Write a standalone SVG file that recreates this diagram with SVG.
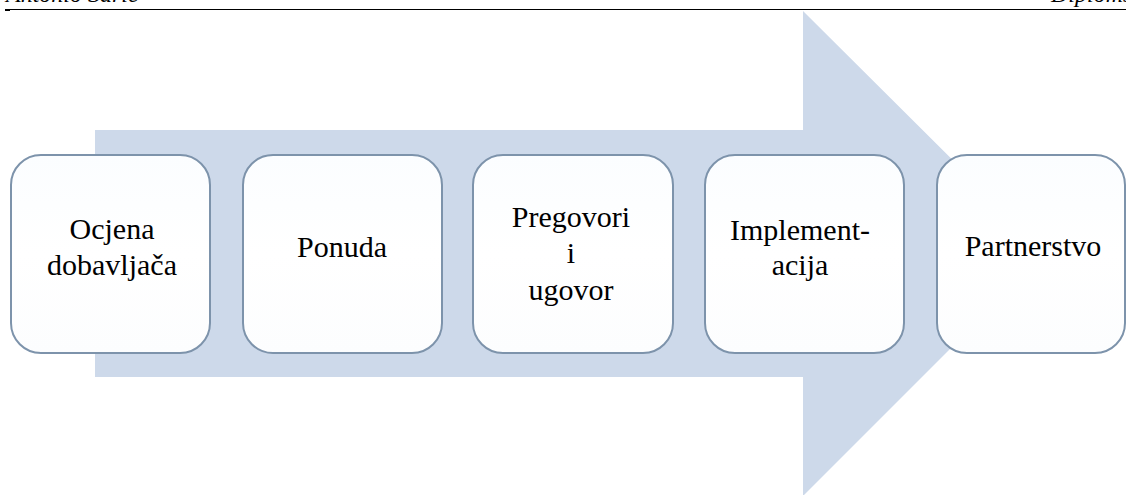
<svg xmlns="http://www.w3.org/2000/svg" width="1126" height="495" viewBox="0 0 1126 495">
  <style>
    .hdr { font-family: "Liberation Serif", "DejaVu Serif", serif; font-style: italic; font-size: 24px; fill: #000; }
    .box { fill: url(#boxfill); stroke: #7d93ab; stroke-width: 2; }
    .lbl { font-family: "Liberation Serif", "DejaVu Serif", serif; font-size: 30px; fill: #000; text-anchor: middle; }
  </style>
  <defs>
    <linearGradient id="boxfill" x1="0" y1="0" x2="0" y2="1">
      <stop offset="0" stop-color="#fbfdff"/>
      <stop offset="0.5" stop-color="#ffffff"/>
      <stop offset="1" stop-color="#fcfdfe"/>
    </linearGradient>
  </defs>
  <rect x="0" y="0" width="1126" height="495" fill="#ffffff"/>

  <!-- page header (cropped at top edge, as in the reference) -->
  <text class="hdr" x="6" y="2">Antonio Šarić</text>
  <text class="hdr" x="1051" y="2">Diplomski rad</text>
  <line x1="5" y1="9.5" x2="1126" y2="9.5" stroke="#000" stroke-width="1.2"/>
  <rect x="5" y="9" width="5" height="2" fill="#000"/>

  <!-- background arrow -->
  <g id="connectors">
    <polygon points="95,130 803,130 803,11 1046,253 803,496 803,377 95,377" fill="#cdd9ea"/>
  </g>

  <g id="node-ocjena">
    <rect class="box" x="11" y="155" width="199" height="198" rx="30" ry="30"/>
    <text class="lbl" x="112" y="239">Ocjena</text>
    <text class="lbl" x="112" y="275">dobavljača</text>
  </g>

  <g id="node-ponuda">
    <rect class="box" x="243" y="155" width="199" height="198" rx="30" ry="30"/>
    <text class="lbl" x="342" y="257">Ponuda</text>
  </g>

  <g id="node-pregovori">
    <rect class="box" x="473" y="155" width="200" height="198" rx="30" ry="30"/>
    <text class="lbl" x="571" y="227">Pregovori</text>
    <text class="lbl" x="571" y="263">i</text>
    <text class="lbl" x="571" y="300">ugovor</text>
  </g>

  <g id="node-implementacija">
    <rect class="box" x="705" y="155" width="199" height="198" rx="30" ry="30"/>
    <text class="lbl" x="800" y="240">Implement-</text>
    <text class="lbl" x="800" y="275">acija</text>
  </g>

  <g id="node-partnerstvo">
    <rect class="box" x="937" y="155" width="188" height="198" rx="30" ry="30"/>
    <text class="lbl" x="1033" y="256">Partnerstvo</text>
  </g>
</svg>
